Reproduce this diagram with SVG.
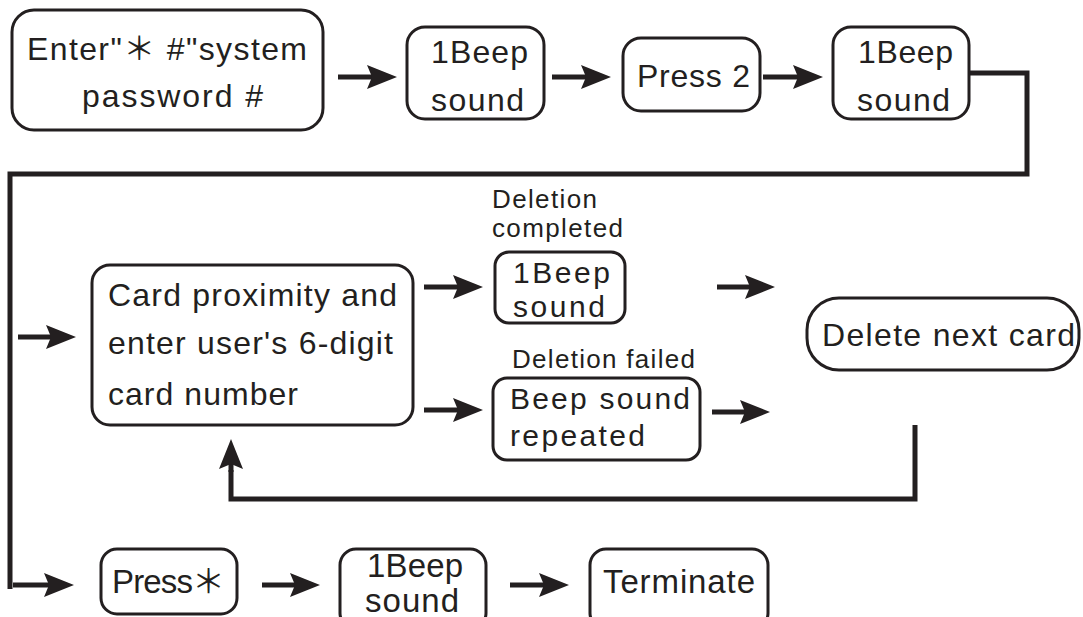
<svg xmlns="http://www.w3.org/2000/svg" width="1083" height="617" viewBox="0 0 1083 617">
<style>
.box{fill:#fff;stroke:#231f20;stroke-width:3}
.t{font-family:"Liberation Sans","Noto Sans CJK SC",sans-serif;fill:#231f20}
.big{font-size:32px}
.mid{font-size:30px}
.lab{font-size:26px}
.bot{font-size:33px}
.wire{fill:none;stroke:#231f20;stroke-width:5;stroke-linejoin:miter}
.arr{fill:none;stroke:#231f20;stroke-width:5;marker-end:url(#ah)}
</style>
<defs>
<marker id="ah" viewBox="0 0 30 24" refX="14" refY="12" markerWidth="30" markerHeight="24" markerUnits="userSpaceOnUse" orient="auto">
<path d="M0,0 L30,12 L0,24 L5,12 Z" fill="#231f20"/>
</marker>
</defs>
<rect width="1083" height="617" fill="#fff"/>

<g id="connectors">
<path class="wire" d="M969,73 H1027 V174 H10 V589"/>
<path class="wire" d="M915,425 V499 H231 V470"/>
<line class="arr" x1="231" y1="472" x2="231" y2="455"/>
<line class="arr" x1="338" y1="77" x2="381" y2="77"/>
<line class="arr" x1="552" y1="77" x2="595" y2="77"/>
<line class="arr" x1="763" y1="77" x2="807" y2="77"/>
<line class="arr" x1="18" y1="337" x2="60" y2="337"/>
<line class="arr" x1="424" y1="287" x2="467" y2="287"/>
<line class="arr" x1="424" y1="410" x2="467" y2="410"/>
<line class="arr" x1="717" y1="287" x2="759" y2="287"/>
<line class="arr" x1="712" y1="412" x2="754" y2="412"/>
<line class="arr" x1="13" y1="585" x2="58" y2="585"/>
<line class="arr" x1="262" y1="585" x2="304" y2="585"/>
<line class="arr" x1="510" y1="585" x2="553" y2="585"/>
</g>

<g id="n-enter">
<rect class="box" x="12" y="10" width="311" height="120" rx="22"/>
<text class="t big" x="27" y="60" textLength="280" lengthAdjust="spacing">Enter"＊ #"system</text>
<text class="t big" x="82" y="107" textLength="181" lengthAdjust="spacing">password #</text>
</g>

<g id="n-beep1">
<rect class="box" x="407" y="27" width="137" height="92" rx="18"/>
<text class="t big" x="431" y="63" textLength="97" lengthAdjust="spacing">1Beep</text>
<text class="t big" x="431" y="111" textLength="93" lengthAdjust="spacing">sound</text>
</g>

<g id="n-press2">
<rect class="box" x="623" y="38" width="137" height="73" rx="18"/>
<text class="t big" x="637" y="87" textLength="113" lengthAdjust="spacing">Press 2</text>
</g>

<g id="n-beep2">
<rect class="box" x="833" y="27" width="136" height="92" rx="18"/>
<text class="t big" x="858" y="63" textLength="95" lengthAdjust="spacing">1Beep</text>
<text class="t big" x="857" y="111" textLength="93" lengthAdjust="spacing">sound</text>
</g>

<g id="n-card">
<rect class="box" x="92" y="265" width="321" height="160" rx="18"/>
<text class="t big" x="108" y="306" textLength="289" lengthAdjust="spacing">Card proximity and</text>
<text class="t big" x="108" y="354" textLength="285" lengthAdjust="spacing">enter user's 6-digit</text>
<text class="t big" x="108" y="405" textLength="190" lengthAdjust="spacing">card number</text>
</g>

<g id="n-ok">
<text class="t lab" x="492" y="208" textLength="105" lengthAdjust="spacing">Deletion</text>
<text class="t lab" x="492" y="237" textLength="131" lengthAdjust="spacing">completed</text>
<rect class="box" x="495" y="252" width="130" height="71" rx="14"/>
<text class="t mid" x="513" y="283" textLength="97" lengthAdjust="spacing">1Beep</text>
<text class="t mid" x="513" y="317" textLength="92" lengthAdjust="spacing">sound</text>
</g>

<g id="n-fail">
<text class="t lab" x="512" y="368" textLength="183" lengthAdjust="spacing">Deletion failed</text>
<rect class="box" x="493" y="378" width="207" height="82" rx="14"/>
<text class="t mid" x="510" y="409" textLength="180" lengthAdjust="spacing">Beep sound</text>
<text class="t mid" x="510" y="446" textLength="135" lengthAdjust="spacing">repeated</text>
</g>

<g id="n-next">
<rect class="box" x="807" y="298" width="272" height="72" rx="32"/>
<text class="t big" x="822" y="346" textLength="253" lengthAdjust="spacing">Delete next card</text>
</g>

<g id="n-pressstar">
<rect class="box" x="101" y="549" width="136" height="65" rx="16"/>
<text class="t bot" x="112" y="593" textLength="113" lengthAdjust="spacing">Press＊</text>
</g>

<g id="n-beep3">
<rect class="box" x="340" y="549" width="146" height="80" rx="16"/>
<text class="t bot" x="367" y="577" textLength="96" lengthAdjust="spacing">1Beep</text>
<text class="t bot" x="365" y="612" textLength="94" lengthAdjust="spacing">sound</text>
</g>

<g id="n-term">
<rect class="box" x="590" y="549" width="178" height="80" rx="16"/>
<text class="t bot" x="603" y="593" textLength="152" lengthAdjust="spacing">Terminate</text>
</g>
</svg>
